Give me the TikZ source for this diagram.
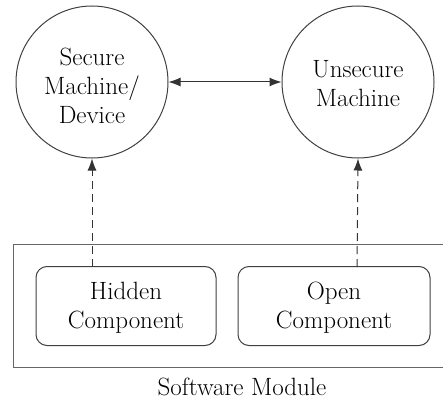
\documentclass[tikz,border=0pt]{standalone}
\usepackage{fontspec}
\usetikzlibrary{arrows.meta}
\begin{document}
\begin{tikzpicture}[x=1pt,y=-1pt,
  lbl/.style={font=\rmfamily\fontsize{25}{29}\selectfont, align=center, text=black},
  circ/.style={draw=black!75, line width=1pt, circle, minimum size=152pt, inner sep=0pt},
  comp/.style={draw=black!75, line width=1pt, rounded corners=11pt, inner sep=0pt},
  tip/.style={-{Latex[length=12pt,width=9pt]}},
  link/.style={draw=black!80, line width=1pt}]
\useasboundingbox (0,0) rectangle (443,406);
\begin{scope}
\clip (0,0) rectangle (443,406);
\draw[draw=black!60, line width=1pt] (13,244) rectangle (450,367);
\end{scope}
\node[circ] (sec) at (92,82) {};
\node[lbl] at (92,86) {Secure\\Machine/\\Device};
\node[circ] (uns) at (358,82) {};
\node[lbl] at (358,84) {Unsecure\\Machine};
\node[comp, minimum width=180pt, minimum height=79pt] (hid) at (126,306) {};
\node[lbl] at (126,308) {Hidden\\Component};
\node[comp, minimum width=192pt, minimum height=79pt] (opn) at (334,306) {};
\node[lbl] at (334,308) {Open\\Component};
\node[lbl] (sm) at (242,387) {Software Module};
\coordinate (hs) at (92,267);
\coordinate (os) at (357,267);
\draw[link, {Latex[length=12pt,width=9pt]}-{Latex[length=12pt,width=9pt]}] (sec) -- (uns);
\draw[link, tip, dash pattern=on 8pt off 5pt] (hs) -- (sec.south);
\draw[link, tip, dash pattern=on 8pt off 5pt] (os) -- (uns.south);
\end{tikzpicture}
\end{document}
